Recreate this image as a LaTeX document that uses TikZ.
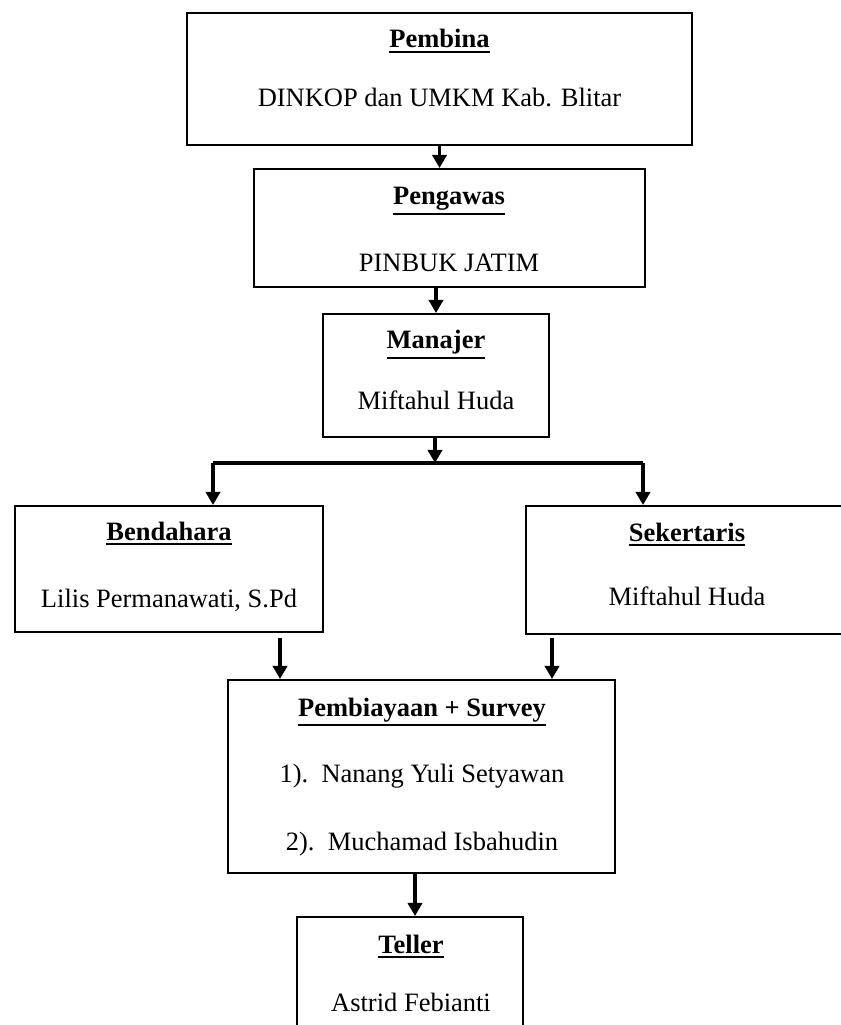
\documentclass[tikz,border=0pt]{standalone}
\usepackage{fontspec}
\setmainfont{Liberation Serif}
\usetikzlibrary{arrows.meta}
\def\px{0.453pt}
\newcommand{\headline}[1]{\vtop{\hbox{#1}\kern1.1pt\hrule height 0.9pt}}
\tikzset{
  box/.style={draw, line width=0.9pt, inner sep=0pt},
  head/.style={font=\fontsize{12pt}{14pt}\selectfont\bfseries, anchor=base, inner sep=0pt},
  member/.style={font=\fontsize{12pt}{14pt}\selectfont, anchor=base, inner sep=0pt},
  link/.style={line width=1.5pt, -{Triangle[width=6.5pt,length=6pt]}}
}
\begin{document}
\begin{tikzpicture}[x=\px, y=-\px]
    \useasboundingbox (0,0) rectangle (840,1025);
    % boxes
    \node[box, minimum width=505*\px, minimum height=132*\px] (pembina) at (439.5,79) {};
    \node[box, minimum width=391*\px, minimum height=118*\px] (pengawas) at (449.5,228) {};
    \node[box, minimum width=226*\px, minimum height=123*\px] (manajer) at (436,375.5) {};
    \node[box, minimum width=308*\px, minimum height=126*\px] (bendahara) at (169,569) {};
    \node[box, minimum width=328*\px, minimum height=128*\px] (sekertaris) at (690,570) {};
    \node[box, minimum width=387*\px, minimum height=193*\px] (pembiayaan) at (421.5,776.5) {};
    \node[box, minimum width=226*\px, minimum height=136*\px] (teller) at (410,985) {};
    % texts
    \node[head] (pembinaH) at (439.5,48) {\headline{Pembina}};
    \node[member] (pembinaM) at (439.5,107) {DINKOP dan UMKM Kab. Blitar};
    \node[head] (pengawasH) at (449,205) {\headline{Pengawas}};
    \node[member] (pengawasM) at (449,272) {PINBUK JATIM};
    \node[head] (manajerH) at (436,349) {\headline{Manajer}};
    \node[member] (manajerM) at (436,409) {Miftahul Huda};
    \node[head] (bendaharaH) at (169,540) {\headline{Bendahara}};
    \node[member] (bendaharaM) at (169,607) {Lilis Permanawati, S.Pd};
    \node[head] (sekertarisH) at (687,541) {\headline{Sekertaris}};
    \node[member] (sekertarisM) at (687,605) {Miftahul Huda};
    \node[head] (pembiayaanH) at (422,716) {\headline{Pembiayaan + Survey}};
    \node[member] (pembiayaanA) at (422,782) {1).~~Nanang Yuli Setyawan};
    \node[member] (pembiayaanB) at (422,850) {2).~~Muchamad Isbahudin};
    \node[head] (tellerH) at (411,953) {\headline{Teller}};
    \node[member] (tellerM) at (411,1011) {Astrid Febianti};
    % connectors
    \coordinate (split) at (435,463);
    \coordinate (splitL) at (213,463);
    \coordinate (splitR) at (643,463);
    \coordinate (fromB) at (280,638);
    \coordinate (fromS) at (552,638);
    \coordinate (toT) at (415,873);
    \draw[link] (pembina.south) -- (pembina.south |- pengawas.north);
    \draw[link] (manajer.north |- pengawas.south) -- (manajer.north);
    \draw[link] (manajer.south -| split) -- (split);
    \draw[line width=1.5pt] (splitL) -- (splitR);
    \draw[link] (splitL) -- (splitL |- bendahara.north);
    \draw[link] (splitR) -- (splitR |- sekertaris.north);
    \draw[link] (fromB) -- (fromB |- pembiayaan.north);
    \draw[link] (fromS) -- (fromS |- pembiayaan.north);
    \draw[link] (toT) -- (toT |- teller.north);
\end{tikzpicture}
\end{document}
